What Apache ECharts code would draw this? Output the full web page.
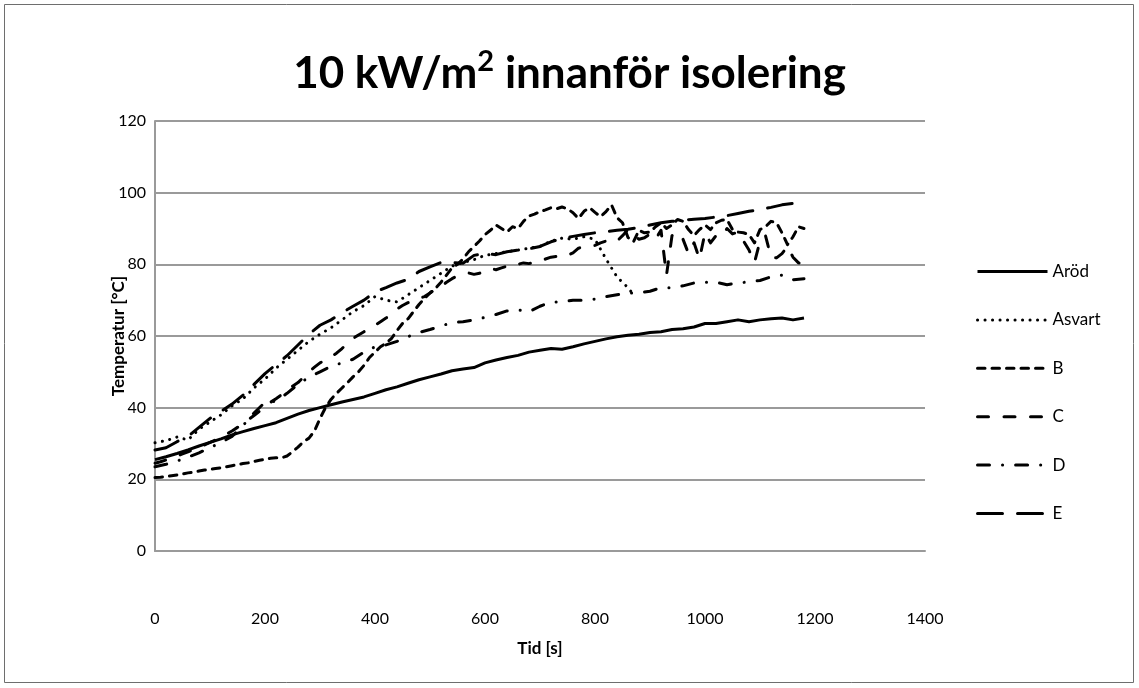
<!DOCTYPE html>
<html>
<head>
<meta charset="utf-8">
<script src="https://cdn.jsdelivr.net/npm/echarts@6/dist/echarts.min.js"></script>
<style>html,body{margin:0;padding:0;background:#fff}#c{width:1139px;height:688px}</style>
</head>
<body>
<div id="c"></div>
<script>
// ---------- data ----------
const seriesNames = ['Aröd', 'Asvart', 'B', 'C', 'D', 'E'];

const timeCoarse = [0,20,40,60,80,100,120,140,160,180,200,220,240,260,280,300,320,340,360,380,
  400,420,440,460,480,500,520,540,560,580,600,620,640,660,680,700,720,740,760,780,
  800,820,840,860,880,900,920,940,960,980,1000,1020,1040,1060,1080,1100,1120,1140,1160,1180];

const timeAsvart = [0,20,40,60,80,100,120,140,160,180,200,220,240,260,280,300,320,340,360,380,
  400,420,440,460,480,500,520,540,560,580,600,620,640,660,680,700,720,740,760,780,
  800,820,840,860,870];

const timeFine = [0,10,20,30,40,50,60,70,80,90,100,110,120,130,140,150,160,170,180,190,
  200,210,220,230,240,250,260,270,280,290,300,310,320,330,340,350,360,370,380,390,
  400,410,420,430,440,450,460,470,480,490,500,510,520,530,540,550,560,570,580,590,
  600,610,620,630,640,650,660,670,680,690,700,710,720,730,740,750,760,770,780,790,
  800,810,820,830,840,850,860,870,880,890,900,910,920,930,940,950,960,970,980,990,
  1000,1010,1020,1030,1040,1050,1060,1070,1080,1090,1100,1110,1120,1130,1140,1150,1160,1170,1180];

const arod = [25.5,26.3,27.2,28.2,29.3,30.3,31.3,32.4,33.3,34.2,
  35.0,35.8,37.0,38.2,39.2,40.0,40.8,41.6,42.3,43.0,
  44.0,45.0,45.8,46.8,47.8,48.6,49.4,50.3,50.8,51.2,
  52.5,53.3,54.0,54.6,55.5,56.0,56.5,56.3,57.0,57.8,
  58.5,59.2,59.8,60.2,60.5,61.0,61.2,61.8,62.0,62.5,
  63.5,63.5,64.0,64.5,64.0,64.5,64.8,65.0,64.5,65.0];

const asvart = [30.2,30.8,31.8,31.0,34.0,36.0,38.0,40.5,42.5,45.5,
  48.0,51.0,53.5,56.0,58.5,60.5,62.3,64.5,66.8,68.5,
  71.0,70.0,69.5,71.5,73.5,75.5,77.5,79.5,80.5,81.3,
  82.5,83.0,83.5,84.0,84.5,85.0,86.5,87.3,87.0,87.7,
  87.0,81.5,76.5,73.5,71.5];

const seriesB = [20.5,20.6,20.8,21.0,21.2,21.5,21.8,22.0,22.3,22.6,
  22.8,23.0,23.2,23.5,23.8,24.1,24.4,24.6,25.0,25.3,
  25.6,25.9,26.0,26.0,26.5,27.7,29.0,30.5,31.5,33.5,
  37.0,40.0,42.3,44.0,45.5,47.0,48.6,50.0,51.8,54.0,
  55.5,57.0,58.0,59.3,61.5,63.5,64.8,66.8,68.8,70.5,
  72.0,73.3,75.0,77.0,79.0,80.0,81.5,83.5,85.0,86.5,
  88.3,89.5,91.0,90.0,89.0,90.5,90.0,92.0,93.5,94.0,
  94.7,95.2,95.8,95.5,96.0,95.5,94.4,92.8,94.8,95.8,
  94.5,93.3,94.7,96.6,93.0,91.6,87.5,86.3,89.5,88.8,
  89.0,90.5,91.6,90.0,91.0,92.5,92.0,89.7,88.0,89.7,
  91.0,89.7,91.6,92.3,92.5,89.7,89.0,88.8,88.3,86.0,
  89.7,90.5,92.0,91.6,88.8,85.5,87.7,90.5,90.0];

const seriesC = [24.5,24.9,25.4,25.9,26.5,27.1,27.7,28.3,28.9,29.6,
  30.3,31.0,31.8,32.6,33.5,34.5,35.6,36.7,37.8,39.0,
  40.3,41.5,42.5,43.6,44.8,46.0,47.0,48.5,50.0,51.3,
  52.5,53.3,54.2,55.2,56.5,58.0,59.3,60.3,61.2,62.0,
  63.0,64.0,65.0,66.0,67.5,68.5,69.3,70.0,70.5,71.0,
  72.0,73.0,73.8,75.0,76.0,76.8,77.3,77.6,77.2,77.5,
  78.2,78.8,78.5,79.0,79.5,80.2,80.0,80.4,80.2,80.5,
  80.8,81.5,82.0,82.2,82.0,82.5,83.2,84.5,85.0,85.0,
  85.3,86.0,86.5,87.0,86.5,88.0,89.7,88.0,87.0,87.4,
  88.5,87.0,89.5,77.0,88.0,89.0,87.0,83.0,86.0,81.5,
  88.8,86.0,88.0,87.7,90.0,88.5,89.0,86.5,84.0,80.5,
  86.5,88.0,82.0,81.8,83.0,85.0,82.0,80.4,80.0];

const seriesD = [23.5,24.2,25.1,26.2,27.4,28.8,30.3,32.0,35.0,38.5,
  41.5,41.8,44.0,46.5,48.5,50.0,51.5,52.5,53.5,55.5,
  57.0,57.5,58.5,59.8,61.0,61.8,62.8,63.7,64.0,64.5,
  65.2,66.0,67.0,67.3,66.8,68.3,69.5,69.5,70.0,70.0,
  70.3,71.0,71.5,72.0,72.0,72.5,73.5,73.5,74.0,74.8,
  75.0,75.0,74.3,74.8,75.1,75.5,76.5,77.0,75.7,76.0];

const seriesE = [28.2,28.8,30.5,32.0,34.5,37.0,39.0,41.0,43.5,46.5,
  49.5,52.0,54.5,57.5,60.5,63.0,64.5,66.5,68.3,70.0,
  72.3,73.5,74.8,75.8,78.0,79.3,80.5,80.5,80.3,82.5,
  83.0,82.7,83.5,84.0,84.3,85.0,86.3,87.2,87.8,88.3,
  88.8,89.1,89.5,89.8,90.3,91.0,91.6,92.0,92.3,92.6,
  92.8,93.2,93.6,94.2,94.8,95.3,95.9,96.6,97.0,97.5];

const xAxisMin = 0, xAxisMax = 1400, xAxisStep = 200;
const yAxisMin = 0, yAxisMax = 120, yAxisStep = 20;

// ---------- styles ----------
const FONT = 'Lato';
const dashStyles = {
  'Aröd':   { type: 'solid', cap: 'butt' },
  'Asvart': { type: [0.1, 7.4], cap: 'round' },
  'B':      { type: [7.5, 7], cap: 'round' },
  'C':      { type: [11, 15.5], cap: 'round' },
  'D':      { type: [12, 13, 0.1, 13], cap: 'round' },
  'E':      { type: [25, 15], cap: 'round' }
};

function zip(t, v) { return t.map((x, i) => [x, v[i]]); }

const seriesData = {
  'Aröd': zip(timeCoarse, arod),
  'Asvart': zip(timeAsvart, asvart),
  'B': zip(timeFine, seriesB),
  'C': zip(timeFine, seriesC),
  'D': zip(timeCoarse, seriesD),
  'E': zip(timeCoarse, seriesE)
};

const chart = echarts.init(document.getElementById('c'), null, { renderer: 'canvas' });
const gridColor = '#9a9a9a';

chart.setOption({
  animation: false,
  backgroundColor: '#ffffff',
  title: {
    text: '{a|10 kW/m}{s|2}{a| innanför isolering}',
    left: 'center',
    top: 42,
    textStyle: {
      rich: {
        a: { fontFamily: FONT, fontSize: 44, fontWeight: 'bold', color: '#000', lineHeight: 54 },
        s: { fontFamily: FONT, fontSize: 29, fontWeight: 'bold', color: '#000', lineHeight: 36, verticalAlign: 'top' }
      }
    }
  },
  grid: { left: 155, top: 121, width: 770, height: 430, containLabel: false },
  legend: {
    orient: 'vertical',
    left: 976,
    top: 260,
    padding: 0,
    itemWidth: 70,
    itemHeight: 20,
    itemGap: 25.4,
    data: seriesNames,
    itemStyle: { color: 'rgba(0,0,0,0)', borderWidth: 0, opacity: 0 },
    lineStyle: { width: 3, color: '#000' },
    textStyle: { fontFamily: FONT, fontSize: 17, color: '#000', lineHeight: 23 }
  },
  xAxis: {
    type: 'value',
    min: xAxisMin, max: xAxisMax, interval: xAxisStep,
    axisLine: { show: true, lineStyle: { color: gridColor, width: 2 } },
    axisTick: { show: false },
    splitLine: { show: false },
    axisLabel: { color: '#000', fontFamily: FONT, fontSize: 16, margin: 60, formatter: v => String(v) },
    name: 'Tid [s]',
    nameLocation: 'middle',
    nameGap: 89,
    nameMoveOverlap: false,
    nameTextStyle: { fontFamily: FONT, fontSize: 17, fontWeight: 'bold', color: '#000' }
  },
  yAxis: {
    type: 'value',
    min: yAxisMin, max: yAxisMax, interval: yAxisStep,
    axisLine: { show: true, lineStyle: { color: gridColor, width: 2 } },
    axisTick: { show: false },
    splitLine: { show: true, lineStyle: { color: gridColor, width: 2 } },
    axisLabel: { color: '#000', fontFamily: FONT, fontSize: 16, margin: 9, formatter: v => String(v) },
    name: 'Temperatur [°C]',
    nameLocation: 'middle',
    nameGap: 28,
    nameRotate: 90,
    nameMoveOverlap: false,
    nameTextStyle: { fontFamily: FONT, fontSize: 17, fontWeight: 'bold', color: '#000' }
  },
  graphic: [{
    type: 'rect', silent: true,
    shape: { x: 4.5, y: 4.5, width: 1129, height: 678 },
    style: { fill: 'none', stroke: '#6e6e6e', lineWidth: 1 }
  }],
  series: seriesNames.map(n => ({
    name: n,
    type: 'line',
    symbol: 'none',
    showSymbol: false,
    smooth: false,
    lineStyle: { color: '#000', width: 3, type: dashStyles[n].type, cap: dashStyles[n].cap, join: 'round' },
    itemStyle: { color: '#000' },
    data: seriesData[n]
  }))
});
</script>
</body>
</html>
